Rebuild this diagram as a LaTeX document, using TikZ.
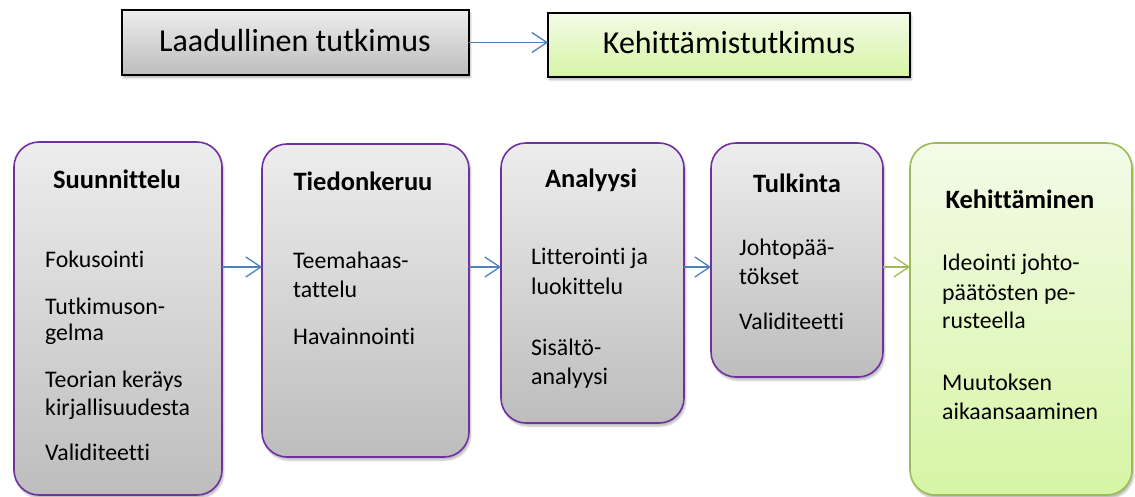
\documentclass[tikz,border=0pt]{standalone}
\usepackage{fontspec}
\setmainfont{Carlito}[RawFeature={-liga}]
\usetikzlibrary{arrows.meta,shadows.blur}
\definecolor{purp}{HTML}{7030A0}
\definecolor{grnb}{HTML}{9BBB59}
\definecolor{bluea}{HTML}{4F81BD}
\definecolor{gtop}{HTML}{EDEDED}
\definecolor{gbot}{HTML}{BDBDBD}
\definecolor{ltop}{HTML}{F3FBE8}
\definecolor{lbot}{HTML}{D6F5A4}
\tikzset{
  boxbase/.style={anchor=north west, inner sep=0pt, outer sep=0pt, shading=axis, shading angle=0,
    blur shadow={shadow blur steps=6, shadow xshift=1.5pt, shadow yshift=-3pt, shadow opacity=28}},
  topgray/.style={boxbase, draw=black, line width=1.3pt, top color=gtop, bottom color=gbot},
  topgreen/.style={boxbase, draw=black, line width=1.3pt, top color=ltop, bottom color=lbot},
  stepgray/.style={boxbase, draw=purp, line width=1.6pt, rounded corners=25pt, top color=gtop, bottom color=gbot},
  stepgreen/.style={boxbase, draw=grnb, line width=1.6pt, rounded corners=25pt, top color=ltop, bottom color=lbot},
  toptxt/.style={anchor=base, inner sep=0pt, font=\fontsize{32}{38}\selectfont},
  ttl/.style={anchor=base, inner sep=0pt, font=\fontsize{26.5}{32}\selectfont\bfseries},
  txt/.style={anchor=base west, inner sep=0pt, font=\fontsize{23.8}{29}\selectfont},
  conn/.style={draw=bluea, line width=1.3pt, -{Straight Barb[length=15pt,width=20pt,line width=1.3pt]}},
  conng/.style={conn, draw=grnb},
}
\begin{document}
\begin{tikzpicture}[x=1pt,y=-1pt]
\useasboundingbox (0,0) rectangle (1135,497);
% top
\node[topgray, minimum width=347pt, minimum height=65pt] (t1) at (122,10) {};
\node[topgreen, minimum width=362pt, minimum height=64pt] (t2) at (548,13) {};
\node[toptxt] (t1l) at (295,52) {Laadullinen tutkimus};
\node[toptxt] (t2l) at (729,54) {Kehittämistutkimus};
\draw[conn] (t1.east) -- (t2.west |- t1.east);
% steps
\node[stepgray, minimum width=208pt, minimum height=353pt] (b1) at (14,142) {};
\node[stepgray, minimum width=207pt, minimum height=313pt] (b2) at (262,144) {};
\node[stepgray, minimum width=183pt, minimum height=280pt] (b3) at (501,143) {};
\node[stepgray, minimum width=172pt, minimum height=234pt] (b4) at (711,143) {};
\node[stepgreen, minimum width=222pt, minimum height=352pt] (b5) at (910,143) {};
\coordinate (ay) at (0,267);
\draw[conn] (b1.east |- ay) -- (b2.west |- ay);
\draw[conn] (b2.east |- ay) -- (b3.west |- ay);
\draw[conn] (b3.east |- ay) -- (b4.west |- ay);
\draw[conng] (b4.east |- ay) -- (b5.west |- ay);
% box 1
\node[ttl] (h1) at (117,189) {Suunnittelu};
\node[txt] (s1) at (45,267) {Fokusointi};
\node[txt] (s2) at (45,314) {Tutkimuson-};
\node[txt] (s3) at (45,340) {gelma};
\node[txt] (s4) at (45,387) {Teorian keräys};
\node[txt] (s5) at (45,415) {kirjallisuudesta};
\node[txt] (s6) at (45,460) {Validiteetti};
% box 2
\node[ttl] (h2) at (363,191) {Tiedonkeruu};
\node[txt] (r1) at (293,269) {Teemahaas-};
\node[txt] (r2) at (293,297) {tattelu};
\node[txt] (r3) at (293,344) {Havainnointi};
% box 3
\node[ttl] (h3) at (591,188) {Analyysi};
\node[txt] (q1) at (531,265) {Litterointi ja};
\node[txt] (q2) at (531,294) {luokittelu};
\node[txt] (q3) at (531,355) {Sisältö-};
\node[txt] (q4) at (531,384) {analyysi};
% box 4
\node[ttl] (h4) at (797,193) {Tulkinta};
\node[txt] (p1) at (739,255) {Johtopää-};
\node[txt] (p2) at (739,284) {tökset};
\node[txt] (p3) at (739,329) {Validiteetti};
% box 5
\node[ttl] (h5) at (1020,209) {Kehittäminen};
\node[txt] (k1) at (942,270) {Ideointi johto-};
\node[txt] (k2) at (942,300) {päätösten pe-};
\node[txt] (k3) at (942,328) {rusteella};
\node[txt] (k4) at (942,390) {Muutoksen};
\node[txt] (k5) at (942,419) {aikaansaaminen};
\end{tikzpicture}
\end{document}
